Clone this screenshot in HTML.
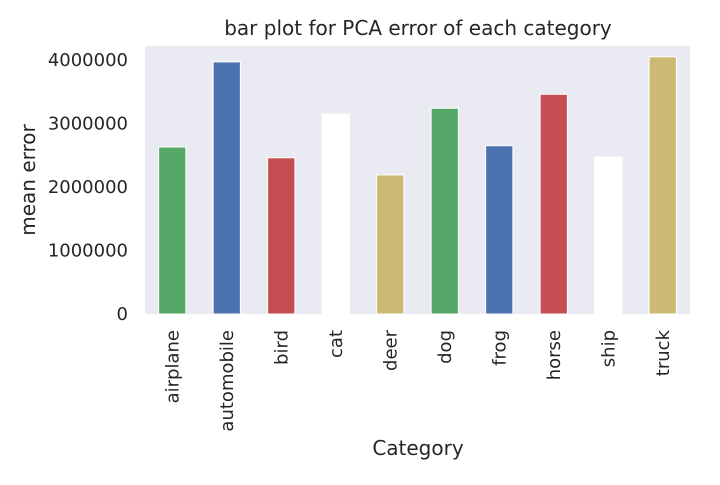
<!DOCTYPE html>
<html><head><meta charset="utf-8"><style>
body{margin:0;background:#fff;}
svg text{font-family:"DejaVu Sans","Liberation Sans",sans-serif;fill:#262626;}
</style></head><body>
<svg id="chart" width="720" height="480">
<rect x="145" y="46" width="545" height="268" fill="#eaeaf2"/>
<text x="418" y="35" text-anchor="middle" font-size="20">bar plot for PCA error of each category</text>
<text x="418" y="455" text-anchor="middle" font-size="20">Category</text>
<text transform="translate(35,180) rotate(-90)" text-anchor="middle" font-size="20">mean error</text>
<g id="bars"></g><g id="yticks"></g><g id="xticks"></g>
</svg>
<script>
const categories=["airplane","automobile","bird","cat","deer","dog","frog","horse","ship","truck"];
const values=[2630000,3970000,2460000,3150000,2190000,3240000,2650000,3460000,2470000,4050000];
const colors=["#55a868","#4c72b0","#c44e52","#ffffff","#ccb974","#55a868","#4c72b0","#c44e52","#ffffff","#ccb974"];
const yTicks=[0,1000000,2000000,3000000,4000000];
const ns="http://www.w3.org/2000/svg";
const x0=145,plotW=545,y0=314,pxPer=254/4000000;
const step=plotW/categories.length;
const xs=i=>x0+step*(i+0.5);
const ys=v=>y0-v*pxPer;
const bars=document.getElementById('bars');
categories.forEach((c,i)=>{
 const r=document.createElementNS(ns,'rect');
 const w=step*0.5;
 r.setAttribute('x',xs(i)-w/2);r.setAttribute('y',ys(values[i]));
 r.setAttribute('width',w);r.setAttribute('height',y0-ys(values[i]));
 r.setAttribute('fill',colors[i]);
 r.setAttribute('stroke','#ffffff');r.setAttribute('stroke-width','1');
 
 
 bars.appendChild(r);
 const t=document.createElementNS(ns,'text');
 t.setAttribute('transform',`translate(${xs(i)+6},330) rotate(-90)`);
 t.setAttribute('text-anchor','end');t.setAttribute('font-size','18');
 t.textContent=c;
 
 
 document.getElementById('xticks').appendChild(t);
});
yTicks.forEach(v=>{
 const t=document.createElementNS(ns,'text');
 t.setAttribute('x',128);t.setAttribute('y',ys(v)+6);
 t.setAttribute('text-anchor','end');t.setAttribute('font-size','18');
 t.textContent=String(v);
 
 
 document.getElementById('yticks').appendChild(t);
});
</script>
</body></html>
